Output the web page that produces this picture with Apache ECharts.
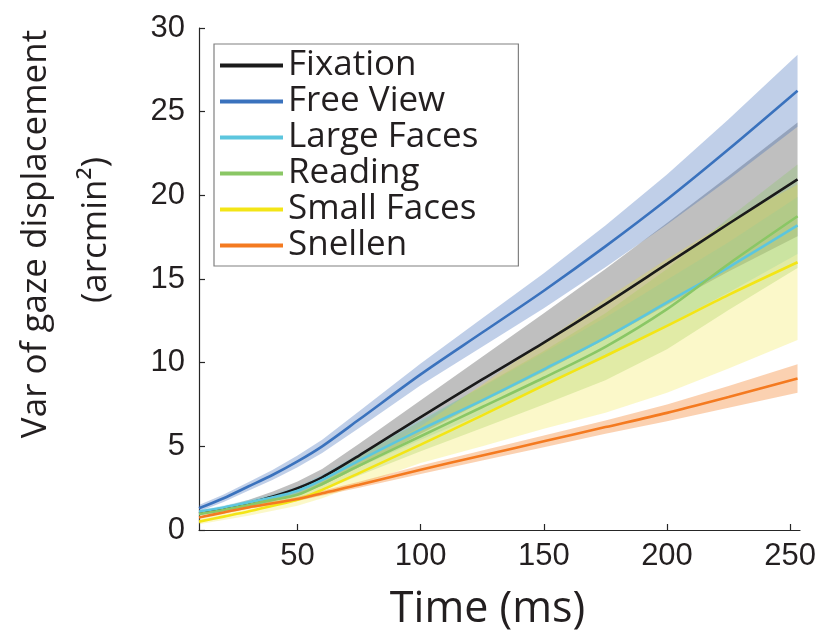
<!DOCTYPE html>
<html>
<head>
<meta charset="utf-8">
<script src="https://cdn.jsdelivr.net/npm/echarts@6/dist/echarts.min.js"></script>
<style>html,body{margin:0;padding:0;background:#fff}#c{width:828px;height:636px}</style>
</head>
<body>
<div id="c"></div>
<script>
// ---- data ----
var timeMs = [10, 20, 30, 40, 50, 60, 75, 100, 125, 150, 175, 200, 225, 253];
var seriesNames = ['Fixation', 'Free View', 'Large Faces', 'Reading', 'Small Faces', 'Snellen'];
var fixationMean   = [1.0, 1.25, 1.6, 2.0, 2.5, 3.15, 4.45, 6.75, 9.0, 11.2, 13.5, 15.9, 18.3, 20.95];
var fixationErr    = [0.1, 0.15, 0.2, 0.3, 0.4, 0.5, 0.7, 1.0, 1.35, 1.75, 2.1, 2.45, 2.85, 3.4];
var freeViewMean   = [1.3, 1.9, 2.6, 3.3, 4.1, 5.0, 6.6, 9.3, 11.8, 14.3, 16.95, 19.75, 22.75, 26.25];
var freeViewErr    = [0.2, 0.22, 0.25, 0.3, 0.35, 0.4, 0.5, 0.65, 0.85, 1.05, 1.25, 1.5, 1.8, 2.15];
var largeFacesMean = [1.1, 1.35, 1.65, 1.95, 2.35, 3.0, 4.15, 6.0, 7.75, 9.6, 11.5, 13.6, 15.7, 18.2];
var largeFacesErr  = [0.1, 0.12, 0.15, 0.2, 0.25, 0.3, 0.4, 0.6, 0.8, 1.0, 1.2, 1.35, 1.5, 1.7];
var readingMean    = [0.95, 1.2, 1.5, 1.8, 2.1, 2.75, 3.85, 5.6, 7.35, 9.1, 10.95, 13.2, 15.9, 18.75];
var readingErr     = [0.1, 0.15, 0.2, 0.25, 0.3, 0.4, 0.6, 0.9, 1.25, 1.6, 2.0, 2.4, 2.75, 3.1];
var smallFacesMean = [0.5, 0.8, 1.1, 1.45, 1.8, 2.4, 3.4, 5.1, 6.85, 8.65, 10.4, 12.2, 14.05, 16.0];
var smallFacesErr  = [0.15, 0.2, 0.25, 0.3, 0.35, 0.5, 0.7, 1.1, 1.85, 2.6, 3.4, 4.0, 4.4, 4.65];
var snellenMean    = [0.75, 1.05, 1.35, 1.6, 1.85, 2.2, 2.7, 3.6, 4.45, 5.3, 6.15, 7.0, 7.95, 9.05];
var snellenErr     = [0.05, 0.06, 0.08, 0.1, 0.12, 0.14, 0.18, 0.25, 0.3, 0.35, 0.4, 0.5, 0.65, 0.85];
var xTicks = [50, 100, 150, 200, 250];
var yTicks = [0, 5, 10, 15, 20, 25, 30];

// ---- styling ----
var lineColors = ['#1a1a1a', '#3a72bd', '#5cc6de', '#8ac765', '#f3e516', '#f47a20'];
var bandColors = ['rgba(0,0,0,0.25)', 'rgba(60,105,185,0.32)', 'rgba(92,198,222,0.25)',
                  'rgba(138,199,101,0.3)', 'rgba(240,228,40,0.25)', 'rgba(244,122,32,0.35)'];
var means = [fixationMean, freeViewMean, largeFacesMean, readingMean, smallFacesMean, snellenMean];
var errs  = [fixationErr, freeViewErr, largeFacesErr, readingErr, smallFacesErr, snellenErr];

var series = [];
// shaded error bands: one polygon per condition, placed through the axes
means.forEach(function (m, k) {
  var e = errs[k];
  series.push({
    type: 'custom', name: 'band-' + k, silent: true, z: 1, clip: true,
    data: timeMs.map(function (t, i) { return [t, m[i] - e[i], m[i] + e[i]]; }),
    encode: { x: 0, y: [1, 2] },
    renderItem: function (params, api) {
      if (params.dataIndex !== 0) return;
      var pts = [];
      for (var i = 0; i < timeMs.length; i++) pts.push(api.coord([timeMs[i], m[i] + e[i]]));
      for (var j = timeMs.length - 1; j >= 0; j--) pts.push(api.coord([timeMs[j], m[j] - e[j]]));
      return { type: 'polygon', shape: { points: pts }, style: { fill: bandColors[k], stroke: null } };
    }
  });
});
// mean lines
means.forEach(function (m, k) {
  series.push({
    type: 'line', name: seriesNames[k], symbol: 'none', z: 5 + k, smooth: 0.3,
    color: lineColors[k], itemStyle: { color: lineColors[k] },
    lineStyle: { color: lineColors[k], width: 2.6 },
    data: timeMs.map(function (t, i) { return [t, m[i]]; })
  });
});

var chart = echarts.init(document.getElementById('c'), null, { renderer: 'canvas' });
chart.setOption({
  animation: false,
  backgroundColor: '#fff',
  grid: { left: 199, right: 28, top: 28, bottom: 106, containLabel: false },
  xAxis: {
    type: 'value', min: 10, max: 254,
    axisLine: { show: true, lineStyle: { color: '#262626', width: 1.2 } },
    axisTick: { show: true, inside: true, length: 6, customValues: xTicks, lineStyle: { color: '#262626', width: 1.2 } },
    axisLabel: { customValues: xTicks, fontFamily: 'Liberation Sans', fontSize: 31, color: '#231f20', margin: 11 },
    splitLine: { show: false },
    name: 'Time (ms)', nameLocation: 'middle', nameGap: 58,
    nameTextStyle: { fontFamily: 'Open Sans', fontSize: 43, color: '#231f20', padding: [0, 24, 0, 0] }
  },
  yAxis: {
    type: 'value', min: 0, max: 30, interval: 5,
    axisLine: { show: true, lineStyle: { color: '#262626', width: 1.2 } },
    axisTick: { show: true, inside: true, length: 6, lineStyle: { color: '#262626', width: 1.2 } },
    axisLabel: { fontFamily: 'Liberation Sans', fontSize: 31, color: '#231f20', margin: 14 },
    splitLine: { show: false }
  },
  legend: {
    data: seriesNames,
    orient: 'vertical', left: 214, top: 44,
    icon: 'rect', itemWidth: 63, itemHeight: 4, itemGap: 1,
    padding: [4, 40, 3, 6],
    borderColor: '#808080', borderWidth: 1.2, backgroundColor: '#fff',
    selectedMode: false,
    textStyle: { fontFamily: 'Open Sans', fontSize: 35, color: '#231f20' }
  },
  graphic: [
    { type: 'text', x: 36, y: 234, rotation: Math.PI / 2,
      style: { text: 'Var of gaze displacement', font: '35px "Open Sans"', fill: '#231f20', align: 'center', verticalAlign: 'middle' } },
    { type: 'text', x: 96, y: 230, rotation: Math.PI / 2,
      style: { text: '(arcmin\u00b2)', font: '35px "Open Sans"', fill: '#231f20', align: 'center', verticalAlign: 'middle' } }
  ],
  series: series
});
</script>
</body>
</html>
